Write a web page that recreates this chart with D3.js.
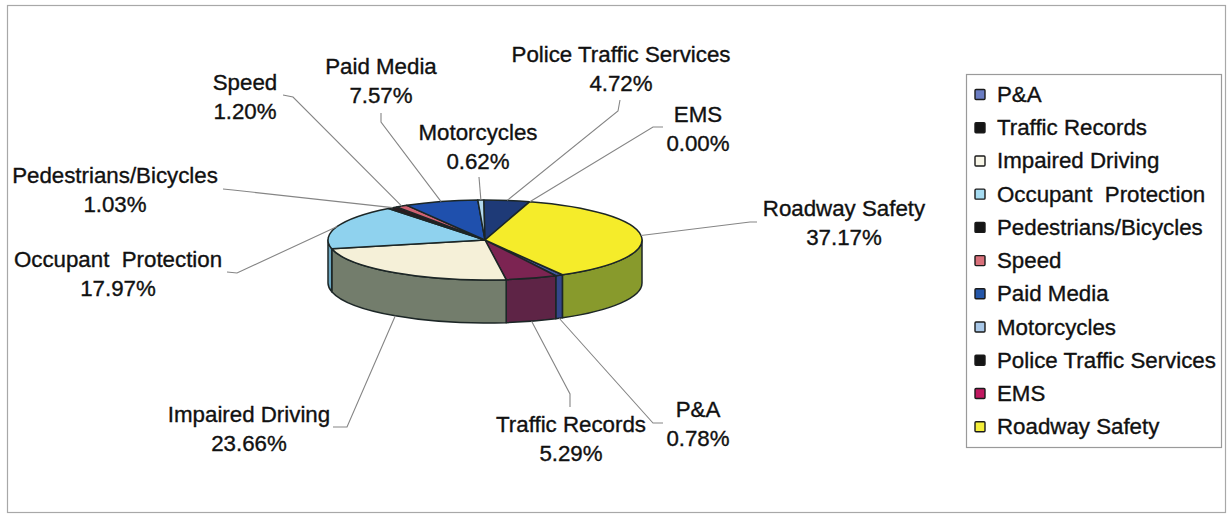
<!DOCTYPE html>
<html>
<head>
<meta charset="utf-8">
<script src="https://cdn.jsdelivr.net/npm/d3@7/dist/d3.min.js"></script>
<style>
  html, body { margin: 0; padding: 0; background: #ffffff; }
  svg { display: block; }
  text { font-family: "Liberation Sans", Arial, sans-serif; fill: #111111; stroke: #111111; stroke-width: 0.35px; }
</style>
</head>
<body>
<svg id="chart" width="1228" height="518"></svg>
<script>
// Program areas and their share of the budget (percent)
const categories = [
  "P&A", "Traffic Records", "Impaired Driving", "Occupant  Protection",
  "Pedestrians/Bicycles", "Speed", "Paid Media", "Motorcycles",
  "Police Traffic Services", "EMS", "Roadway Safety"
];
const values = [0.78, 5.29, 23.66, 17.97, 1.03, 1.20, 7.57, 0.62, 4.72, 0.00, 37.17];
const valueLabels = ["0.78%", "5.29%", "23.66%", "17.97%", "1.03%", "1.20%", "7.57%", "0.62%", "4.72%", "0.00%", "37.17%"];

// Slice colours: top face, side wall, legend key
const topColors = ["#41549c", "#7c2452", "#f5f0d8", "#8fd2ee", "#2a1c20", "#d06272",
                   "#1f50ad", "#b3d9ee", "#1e3a77", "#c01a62", "#f5ec2a"];
const sideColors = ["#34468a", "#5e2446", "#737d6c", "#6aa6c0", "#1e1416", "#a04855",
                    "#173d85", "#8fb0c2", "#162c5c", "#901448", "#889a2c"];
const legendColors = ["#6a7cc2", "#151515", "#f8f6e8", "#a6dcf2", "#151515", "#d8707a",
                      "#2456a8", "#a9c8e8", "#151515", "#c01860", "#f4ee3a"];

// Label placement: centre x, first baseline, leader stub points near the text
const labelLayout = {
  "P&A":                   { x: 698, y: 417, stub: [[663, 423], [653, 423]] },
  "Traffic Records":       { x: 571, y: 432, stub: [[570, 407], [570, 394]] },
  "Impaired Driving":      { x: 249, y: 422, stub: [[333, 427], [347, 427]] },
  "Occupant  Protection":  { x: 118, y: 267, stub: [[227, 272], [237, 273]] },
  "Pedestrians/Bicycles":  { x: 115, y: 183, stub: [[223, 189], [233, 190]] },
  "Speed":                 { x: 245, y: 90,  stub: [[283, 95], [293, 97]] },
  "Paid Media":            { x: 381, y: 74,  stub: [[381, 113], [381, 122]] },
  "Motorcycles":           { x: 478, y: 140, stub: [[479, 177]] },
  "Police Traffic Services": { x: 621, y: 62, stub: [[620, 100], [618, 111]] },
  "EMS":                   { x: 698, y: 122, stub: [[663, 127], [653, 127]] },
  "Roadway Safety":        { x: 844, y: 216, stub: [[757, 222], [750, 222]] }
};

const svg = d3.select("#chart");

// Outer chart frame
svg.append("rect")
  .attr("x", 7.5).attr("y", 5.5).attr("width", 1218).attr("height", 507)
  .attr("fill", "none").attr("stroke", "#a8a8a8").attr("stroke-width", 1.2);

// 3D pie geometry
const cx = 485, cy = 240, rx = 157, ry = 40, depth = 43;
const firstSliceAngle = 150.4 * Math.PI / 180;

const pie = d3.pie().sort(null).value(d => d.value)
  .startAngle(firstSliceAngle).endAngle(firstSliceAngle + 2 * Math.PI);

const data = categories.map((c, i) => ({
  name: c, value: values[i], label: valueLabels[i],
  top: topColors[i], side: sideColors[i], key: legendColors[i]
}));
const arcs = pie(data);

const px = a => cx + rx * Math.sin(a);
const py = (a, dz = 0) => cy - ry * Math.cos(a) + dz;

function topPath(a0, a1) {
  const large = (a1 - a0) > Math.PI ? 1 : 0;
  return `M${cx},${cy}L${px(a0)},${py(a0)}A${rx},${ry} 0 ${large} 1 ${px(a1)},${py(a1)}Z`;
}
function sidePath(a0, a1) {
  return `M${px(a0)},${py(a0)}A${rx},${ry} 0 0 1 ${px(a1)},${py(a1)}` +
         `L${px(a1)},${py(a1, depth)}A${rx},${ry} 0 0 0 ${px(a0)},${py(a0, depth)}Z`;
}

// Front-facing angular windows (the visible wall of the cylinder)
const fronts = [[Math.PI / 2, 3 * Math.PI / 2], [5 * Math.PI / 2, 7 * Math.PI / 2]];

const gSide = svg.append("g");
const gTop = svg.append("g");
const outline = "#1c2626";

arcs.forEach(a => {
  if (a.endAngle - a.startAngle <= 0) return;
  fronts.forEach(([f0, f1]) => {
    const s = Math.max(a.startAngle, f0), e = Math.min(a.endAngle, f1);
    if (e > s) {
      gSide.append("path")
        .attr("d", sidePath(s, e))
        .attr("fill", a.data.side)
        .attr("stroke", outline).attr("stroke-width", 1.5)
        .attr("stroke-linejoin", "round");
    }
  });
});

arcs.forEach(a => {
  if (a.endAngle - a.startAngle <= 0) return;
  gTop.append("path")
    .attr("d", topPath(a.startAngle, a.endAngle))
    .attr("fill", a.data.top)
    .attr("stroke", outline).attr("stroke-width", 1.5)
    .attr("stroke-linejoin", "round");
});

// Leader lines from each slice to its label
const gLines = svg.append("g");
arcs.forEach(a => {
  const mid = (a.startAngle + a.endAngle) / 2;
  const m = ((mid % (2 * Math.PI)) + 2 * Math.PI) % (2 * Math.PI);
  const front = m > Math.PI / 2 && m < 3 * Math.PI / 2;
  const anchor = [px(mid), py(mid, front ? depth : 0)];
  const lay = labelLayout[a.data.name];
  const pts = lay.stub.concat([anchor]);
  gLines.append("path")
    .attr("d", d3.line()(pts))
    .attr("fill", "none")
    .attr("stroke", "#858585").attr("stroke-width", 1.1);
});

// Slice labels: name and percentage
const gLabels = svg.append("g").attr("font-size", 22.3).attr("text-anchor", "middle");
arcs.forEach(a => {
  const lay = labelLayout[a.data.name];
  const t = gLabels.append("text").attr("x", lay.x).attr("y", lay.y)
    .style("white-space", "pre");
  t.append("tspan").attr("x", lay.x).text(a.data.name);
  t.append("tspan").attr("x", lay.x).attr("dy", 29).text(a.data.label);
});

// Legend
const legend = svg.append("g");
legend.append("rect")
  .attr("x", 966.5).attr("y", 74.5).attr("width", 255).attr("height", 373)
  .attr("fill", "#ffffff").attr("stroke", "#9a9a9a").attr("stroke-width", 1.2);

const legendY = d3.scalePoint().domain(categories).range([94.5, 426.7]);
const items = legend.selectAll("g.item").data(data).join("g")
  .attr("class", "item")
  .attr("transform", d => `translate(0,${legendY(d.name)})`);
items.append("rect")
  .attr("x", 975).attr("y", -5).attr("width", 10).attr("height", 10).attr("rx", 1)
  .attr("fill", d => d.key).attr("stroke", "#1a1a1a").attr("stroke-width", 1.4);
items.append("text")
  .attr("x", 997).attr("y", 7.5).attr("font-size", 22.3)
  .style("white-space", "pre")
  .text(d => d.name);
</script>
</body>
</html>
